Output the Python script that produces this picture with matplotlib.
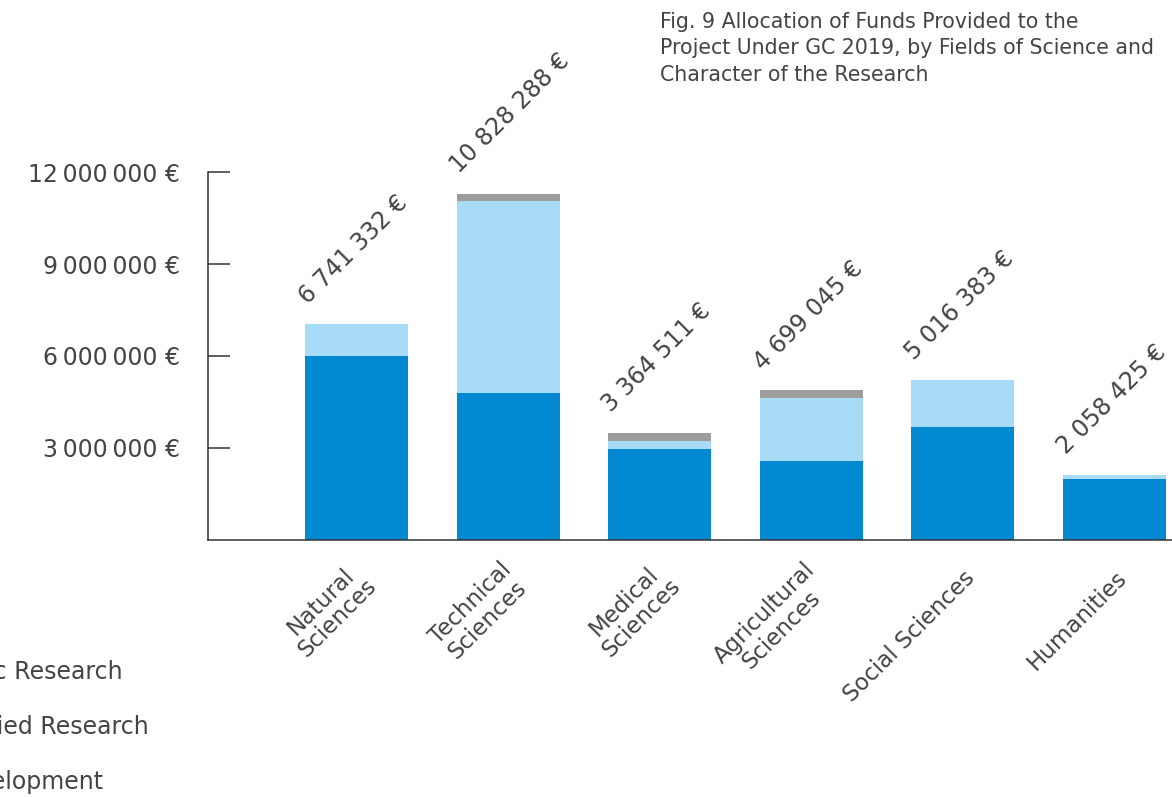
"""
Allocation of funds by field of science and character of the research.
"""

import matplotlib.pyplot as plt
from matplotlib.patches import Rectangle

plt.rcParams['font.family'] = ['DejaVu Sans']

# data (EUR)
fields = ["Natural\nSciences", "Technical\nSciences", "Medical\nSciences",
          "Agricultural\nSciences", "Social Sciences", "Humanities"]
basic = [6.00e6, 4.80e6, 2.97e6, 2.57e6, 3.69e6, 1.98e6]
applied = [1.03e6, 6.27e6, 0.26e6, 2.07e6, 1.51e6, 0.13e6]
development = [0.0, 0.23e6, 0.26e6, 0.23e6, 0.0, 0.0]
total_labels = ["6 741 332 €", "10 828 288 €", "3 364 511 €",
                "4 699 045 €", "5 016 383 €", "2 058 425 €"]
yticks = [3e6, 6e6, 9e6, 12e6]
series_names = ["Basic Research", "Applied Research", "Development"]

basic_color = '#0289d1'
applied_color = '#a8dcf6'
dev_color = '#9d9d9d'
text_color = '#444444'
axis_color = '#333333'

fig = plt.figure(figsize=(11.72, 7.97), dpi=100)
ax = fig.add_axes([208 / 1172, 1 - 539.5 / 797, (1172 - 208) / 1172, 367.2 / 797])

x = list(range(1, len(fields) + 1))
width = 0.68
ax.bar(x, basic, width, color=basic_color)
ax.bar(x, applied, width, bottom=basic, color=applied_color)
tops = [b + a for b, a in zip(basic, applied)]
ax.bar(x, development, width, bottom=tops, color=dev_color)
tops = [t + d for t, d in zip(tops, development)]

ax.set_xlim(0.0205, 6.379)
ax.set_ylim(0, 12e6)

for spine in ['top', 'right']:
    ax.spines[spine].set_visible(False)
for spine in ['left', 'bottom']:
    ax.spines[spine].set_color(axis_color)
    ax.spines[spine].set_linewidth(1.1)

ax.set_yticks(yticks)
ax.set_yticklabels([f"{v:,.0f}".replace(",", "\u2009") + " €" for v in yticks])
ax.tick_params(axis='y', direction='in', length=16, width=1.1, color=axis_color,
               pad=20, labelsize=17, labelcolor=text_color)
ax.set_xticks(x)
ax.set_xticklabels([])
ax.tick_params(axis='x', length=0)

# category labels, rotated
for xi, name in zip(x, fields):
    ax.annotate(name, (xi, 0), xytext=(6, -25), textcoords='offset points',
                rotation=45, rotation_mode='anchor', ha='right', va='center',
                ma='center', fontsize=16.5, color=text_color, linespacing=1.05,
                annotation_clip=False)

# total labels above the bars
for xi, top, lab in zip(x, tops, total_labels):
    ax.annotate(lab, (xi - width / 2, top), xytext=(2, 14), textcoords='offset points',
                rotation=45, rotation_mode='anchor', ha='left', va='baseline',
                fontsize=17, color=text_color, annotation_clip=False)

fig.text(660 / 1172, 1 - 12 / 797,
         "Fig. 9 Allocation of Funds Provided to the\n"
         "Project Under GC 2019, by Fields of Science and\n"
         "Character of the Research",
         ha='left', va='top', fontsize=14.8, color=text_color, linespacing=1.4)

# legend, partly outside the figure on the left
probe = fig.text(0, 0, series_names[0], fontsize=17)
fig.canvas.draw()
w = probe.get_window_extent().width
probe.remove()
lx = (123 - w) / 1172
for i, (name, col) in enumerate(zip(series_names, [basic_color, applied_color, dev_color])):
    y = 1 - (672 + 55 * i) / 797
    fig.text(lx, y, name, ha='left', va='center', fontsize=17, color=text_color)
    fig.patches.append(Rectangle((lx - 40 / 1172, y - 9 / 797), 18 / 1172, 18 / 797,
                                 transform=fig.transFigure, color=col))

fig.savefig('out.png', dpi=100)
